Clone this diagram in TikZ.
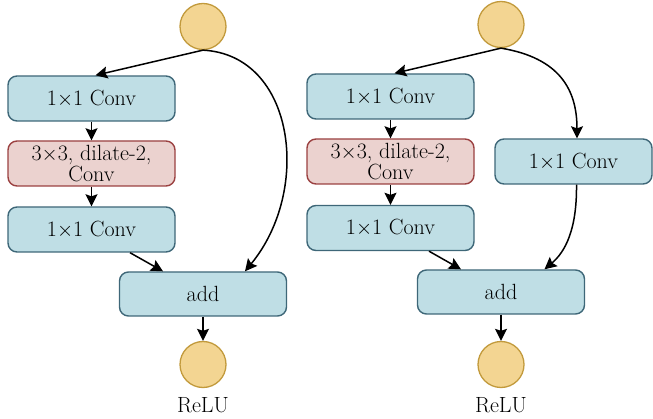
\documentclass[tikz,border=0pt]{standalone}
\usetikzlibrary{arrows.meta}
\definecolor{bfill}{HTML}{BFDEE5}
\definecolor{bline}{HTML}{3E6778}
\definecolor{rfill}{HTML}{EBD2CF}
\definecolor{rline}{HTML}{9B4141}
\definecolor{cfill}{HTML}{F3D592}
\definecolor{cline}{HTML}{C29A3C}
\begin{document}
\begin{tikzpicture}[x=1pt,y=-1pt,
  font=\fontsize{22}{20.5}\selectfont,
  bbox/.style={draw=bline,fill=bfill,line width=1.4pt,rounded corners=9pt,
    minimum width=167pt,minimum height=45pt,inner sep=0pt,align=center},
  rbox/.style={bbox,draw=rline,fill=rfill},
  cnode/.style={circle,draw=cline,fill=cfill,line width=1.3pt,minimum size=46pt,inner sep=0pt},
  arr/.style={line width=1.5pt,-{Stealth[length=12pt,width=12pt,inset=2pt]}}]
\useasboundingbox (0,0) rectangle (653,419);
% left panel
\node[cnode] (in1) at (203,26.5) {};
\node[bbox] (a1) at (91.5,98.5) {1$\times$1 Conv};
\node[rbox] (b1) at (91.5,163.5) {3$\times$3, dilate-2,\\Conv};
\node[bbox] (c1) at (91.5,229.5) {1$\times$1 Conv};
\node[bbox,minimum height=44pt] (add1) at (203,294) {add};
\node[cnode] (out1) at (203,364.5) {};
\node (r1) at (203,405) {ReLU};
\draw[arr] (in1.south) -- ([xshift=4]a1.north);
\draw[arr] (a1.south) -- (b1.north);
\draw[arr] (b1.south) -- (c1.north);
\draw[arr] ([xshift=38.5]c1.south) -- ([xshift=-40]add1.north);
\draw[arr] (in1.south) .. controls (295,55) and (312,190) .. ([xshift=42]add1.north);
\draw[arr] (add1.south) -- (out1.north);
% right panel
\node[cnode] (in2) at (501,24.5) {};
\node[bbox] (a2) at (390.5,96.5) {1$\times$1 Conv};
\node[rbox] (b2) at (390.5,161.5) {3$\times$3, dilate-2,\\Conv};
\node[bbox] (c2) at (390.5,228) {1$\times$1 Conv};
\node[bbox,minimum width=157pt] (d2) at (573.5,161.5) {1$\times$1 Conv};
\node[bbox,minimum height=44pt] (add2) at (501,292) {add};
\node[cnode] (out2) at (501,364.5) {};
\node (r2) at (501,405) {ReLU};
\draw[arr] (in2.south) -- ([xshift=4]a2.north);
\draw[arr] (a2.south) -- (b2.north);
\draw[arr] (b2.south) -- (c2.north);
\draw[arr] ([xshift=38.5]c2.south) -- ([xshift=-40]add2.north);
\draw[arr] (in2.south) .. controls (560,58) and (577,90) .. ([xshift=3.5]d2.north);
\draw[arr] ([xshift=3]d2.south) .. controls (577,230) and (565,252) .. ([xshift=43.5]add2.north);
\draw[arr] (add2.south) -- (out2.north);
\end{tikzpicture}
\end{document}
